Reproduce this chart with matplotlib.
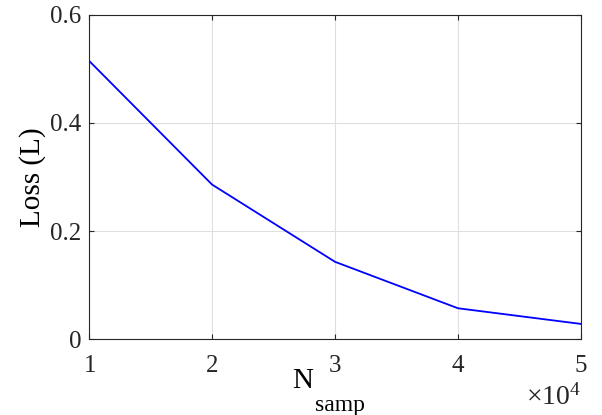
import matplotlib
matplotlib.use("Agg")
import matplotlib.pyplot as plt
from matplotlib.ticker import ScalarFormatter

plt.rcParams['font.family'] = ['Liberation Serif', 'DejaVu Serif']
plt.rcParams['mathtext.fontset'] = 'custom'
plt.rcParams['mathtext.rm'] = 'Liberation Serif'
plt.rcParams['mathtext.it'] = 'Liberation Serif:italic'

n_samp = [10000, 20000, 30000, 40000, 50000]
loss = [0.515, 0.286, 0.143, 0.057, 0.028]

fig = plt.figure(figsize=(6.02, 4.15), dpi=100)
ax = fig.add_axes([0.148, 0.183, 0.817, 0.781])

ax.plot(n_samp, loss, color=(0, 0, 1), linewidth=1.3)

ax.set_xlim(10000, 50000)
ax.set_ylim(0, 0.6)
ax.set_xticks([10000, 20000, 30000, 40000, 50000])
ax.set_yticks([0, 0.2, 0.4, 0.6])
ax.set_yticklabels(['0', '0.2', '0.4', '0.6'])

# x values are in units of 1e4, MATLAB style exponent drawn below the axis
fmt = ScalarFormatter(useMathText=True)
fmt.set_powerlimits((0, 0))
ax.xaxis.set_major_formatter(fmt)
ax.xaxis.get_offset_text().set_visible(False)
ax.text(1.0, -0.221, r'$\times10^{4}$', transform=ax.transAxes,
        ha='right', va='bottom', fontsize=20, color='#262626')

ax.grid(True, color='#dfdfdf', linewidth=0.8)
ax.set_axisbelow(True)
ax.tick_params(direction='in', length=3.5, width=0.8, top=True, right=True,
               labelsize=18, colors='#262626')
ax.tick_params(axis='x', pad=11.5)
ax.tick_params(axis='y', pad=5.5)
for s in ax.spines.values():
    s.set_color('#262626')
    s.set_linewidth(0.8)

ax.set_xlabel('N', fontsize=21)
ax.xaxis.set_label_coords(0.434, -0.1512)
ax.xaxis.label.set_va('baseline')
ax.text(0.459, -0.222, 'samp', transform=ax.transAxes, ha='left',
        va='baseline', fontsize=17, color='black')
ax.set_ylabel('Loss (L)', fontsize=21, labelpad=3)

fig.savefig('out.png', dpi=100)
